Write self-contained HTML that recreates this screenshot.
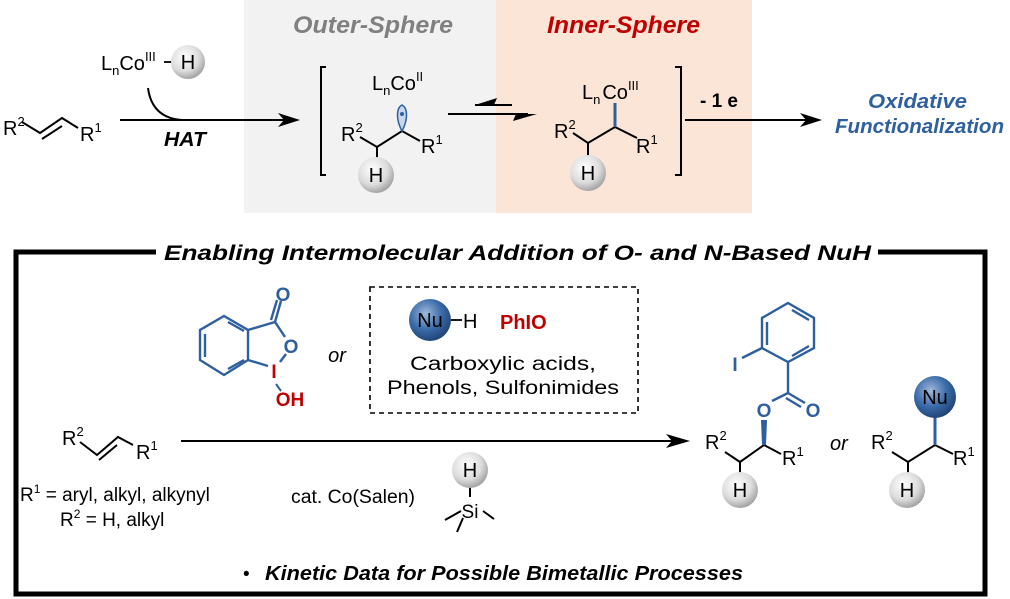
<!DOCTYPE html>
<html><head><meta charset="utf-8"><style>
html,body{margin:0;padding:0;background:#fff}
svg{display:block}
text{font-family:"Liberation Sans",Arial,sans-serif}
</style></head><body>
<svg width="1010" height="599" viewBox="0 0 1010 599" xmlns="http://www.w3.org/2000/svg">
<defs>
<radialGradient id="hg" cx="0.4" cy="0.35" r="0.7">
<stop offset="0" stop-color="#ffffff"/><stop offset="0.6" stop-color="#dcdcdc"/><stop offset="1" stop-color="#9a9a9a"/>
</radialGradient>
<radialGradient id="ng" cx="0.4" cy="0.35" r="0.7">
<stop offset="0" stop-color="#9fb9dc"/><stop offset="0.55" stop-color="#3a6aa8"/><stop offset="1" stop-color="#1e3f70"/>
</radialGradient>
</defs>
<rect x="244" y="0" width="252" height="213" fill="#f2f2f2"/>
<rect x="496" y="0" width="256" height="213" fill="#fbe5d6"/>
<text x="293" y="33" font-size="24" font-weight="bold" font-style="italic" fill="#808080" textLength="160" lengthAdjust="spacingAndGlyphs">Outer-Sphere</text>
<text x="547" y="33" font-size="24" font-weight="bold" font-style="italic" fill="#c00000" textLength="153" lengthAdjust="spacingAndGlyphs">Inner-Sphere</text>

<g stroke="#000" stroke-width="2" fill="none">
<polyline points="22,122 40,133 62,118 78,128"/>
<line x1="42" y1="139" x2="62" y2="126"/>
<line x1="120" y1="120" x2="290" y2="120"/>
<path d="M148,88 Q152,118 182,120"/>
<polyline points="326,67 321,67 321,175 326,175"/>
<polyline points="675,67 681,67 681,175 675,175"/>
<polyline points="360,137 377,147 402,131 420,141"/>
<line x1="377" y1="147" x2="377" y2="158"/>
<line x1="475" y1="105" x2="512" y2="105"/>
<line x1="448" y1="114" x2="528" y2="114"/>
<polyline points="573,133 588,143 615,127 637,138"/>
<line x1="588" y1="143" x2="588" y2="156"/>
<line x1="685" y1="120" x2="810" y2="120"/>
</g>
<polygon points="300,120 278,113 284,120 278,127" fill="#000"/>
<polygon points="475,105 497,98 494,105" fill="#000"/>
<polygon points="537,114 513,121 516,114" fill="#000"/>
<polygon points="822,120 800,113 806,120 800,127" fill="#000"/>
<line x1="615" y1="127" x2="615" y2="103" stroke="#2e5f9e" stroke-width="3"/>
<path d="M402,131 C396,120 396,108 402,105 C408,108 408,120 402,131 Z" fill="#c9d7ec" stroke="#2e5f9e" stroke-width="1.5"/>
<circle cx="402" cy="114" r="2" fill="#2e5f9e"/>

<g font-size="20" fill="#000">
<text x="3" y="135">R<tspan font-size="13" dy="-9">2</tspan></text>
<text x="80" y="141">R<tspan font-size="13" dy="-9">1</tspan></text>
<text x="101" y="70">L<tspan font-size="13" dy="5">n</tspan><tspan dy="-5">Co</tspan><tspan font-size="13" dy="-9">III</tspan></text>
<text x="372" y="90">L<tspan font-size="13" dy="5">n</tspan><tspan dy="-5">Co</tspan><tspan font-size="13" dy="-9">II</tspan></text>
<text x="341" y="141">R<tspan font-size="13" dy="-9">2</tspan></text>
<text x="421" y="153">R<tspan font-size="13" dy="-9">1</tspan></text>
<text x="582" y="99">L<tspan font-size="13" dy="5">n</tspan><tspan dx="2" dy="-5">Co</tspan><tspan font-size="13" dy="-9">III</tspan></text>
<text x="554" y="138">R<tspan font-size="13" dy="-9">2</tspan></text>
<text x="636" y="153">R<tspan font-size="13" dy="-9">1</tspan></text>
</g>
<line x1="164" y1="62" x2="172" y2="62" stroke="#000" stroke-width="1.8"/>
<circle cx="188" cy="62" r="17" fill="url(#hg)"/><text x="188" y="69" font-size="20" text-anchor="middle">H</text>
<circle cx="376" cy="175" r="18" fill="url(#hg)"/><text x="376" y="182" font-size="20" text-anchor="middle">H</text>
<circle cx="588" cy="173" r="18" fill="url(#hg)"/><text x="588" y="180" font-size="20" text-anchor="middle">H</text>
<text x="164" y="146" font-size="20" font-weight="bold" font-style="italic" textLength="42" lengthAdjust="spacingAndGlyphs">HAT</text>
<text x="719" y="107" font-size="19" font-weight="bold" text-anchor="middle">- 1 e</text>
<text x="868" y="108" font-size="20" font-weight="bold" font-style="italic" fill="#2e5f9e" textLength="99" lengthAdjust="spacingAndGlyphs">Oxidative</text>
<text x="835" y="133" font-size="20" font-weight="bold" font-style="italic" fill="#2e5f9e" textLength="169" lengthAdjust="spacingAndGlyphs">Functionalization</text>

<rect x="16" y="252" width="969" height="342" fill="none" stroke="#000" stroke-width="5"/>
<rect x="156" y="238" width="722" height="28" fill="#fff"/>
<text x="164" y="260" font-size="21" font-weight="bold" font-style="italic" textLength="707" lengthAdjust="spacingAndGlyphs">Enabling Intermolecular Addition of O- and N-Based NuH</text>

<g stroke="#2e5f9e" stroke-width="2.4" fill="none">
<polygon points="224,316 248,330 248,360 224,375 200,360 200,330"/>
<line x1="205" y1="334" x2="205" y2="357"/>
<line x1="228" y1="322" x2="244" y2="331"/>
<line x1="228" y1="369" x2="244" y2="360"/>
<line x1="248" y1="330" x2="275" y2="322"/>
<line x1="275" y1="322" x2="281" y2="301"/>
<line x1="271" y1="320" x2="277" y2="300"/>
<line x1="275" y1="322" x2="285" y2="337"/>
<line x1="248" y1="360" x2="268" y2="366"/>
<line x1="286" y1="354" x2="280" y2="362"/>
</g>
<line x1="276" y1="384" x2="281" y2="391" stroke="#2e5f9e" stroke-width="2"/>
<text x="283" y="301" font-size="19" font-weight="bold" fill="#2e5f9e" text-anchor="middle">O</text>
<text x="291" y="353" font-size="19" font-weight="bold" fill="#2e5f9e" text-anchor="middle">O</text>
<text x="274" y="378" font-size="19" font-weight="bold" fill="#c00000" text-anchor="middle">I</text>
<text x="290" y="406" font-size="19" font-weight="bold" fill="#c00000" text-anchor="middle">OH</text>
<text x="337" y="362" font-size="20" font-style="italic" text-anchor="middle">or</text>

<rect x="370" y="287" width="268" height="126" fill="none" stroke="#000" stroke-width="1.6" stroke-dasharray="5,4"/>
<circle cx="430" cy="320" r="21" fill="url(#ng)"/>
<text x="430" y="327" font-size="20" text-anchor="middle">Nu</text>
<line x1="451" y1="320" x2="462" y2="320" stroke="#000" stroke-width="1.8"/>
<text x="463" y="328" font-size="20">H</text>
<text x="500" y="329" font-size="20" font-weight="bold" fill="#c00000">PhIO</text>
<text x="410" y="370" font-size="19" textLength="186" lengthAdjust="spacingAndGlyphs">Carboxylic acids,</text>
<text x="387" y="394" font-size="19" textLength="232" lengthAdjust="spacingAndGlyphs">Phenols, Sulfonimides</text>

<g stroke="#000" stroke-width="2" fill="none">
<polyline points="80,442 97,455 118,437 133,445"/>
<line x1="99" y1="460" x2="117" y2="445"/>
<line x1="181" y1="441" x2="680" y2="441"/>
<line x1="470" y1="487" x2="470" y2="497"/>
<line x1="445" y1="520" x2="461" y2="511"/>
<line x1="457" y1="532" x2="463" y2="518"/>
<line x1="483" y1="511" x2="494" y2="519"/>
<polyline points="725,452 740,462 764,445 781,454"/>
<line x1="740" y1="462" x2="740" y2="473"/>
<polyline points="892,452 908,462 935,445 953,454"/>
<line x1="908" y1="462" x2="908" y2="473"/>
</g>
<polygon points="690,441 666,434 672,441 666,448" fill="#000"/>
<g font-size="20">
<text x="62" y="445">R<tspan font-size="13" dy="-9">2</tspan></text>
<text x="136" y="459">R<tspan font-size="13" dy="-9">1</tspan></text>
<text x="20" y="501" font-size="19">R<tspan font-size="12" dy="-8">1</tspan><tspan dy="8"> = aryl, alkyl, alkynyl</tspan></text>
<text x="60" y="526" font-size="19">R<tspan font-size="12" dy="-8">2</tspan><tspan dy="8"> = H, alkyl</tspan></text>
<text x="291" y="503" font-size="19" textLength="124" lengthAdjust="spacingAndGlyphs">cat. Co(Salen)</text>
<text x="470" y="518" font-size="19" text-anchor="middle">Si</text>
<text x="705" y="449">R<tspan font-size="13" dy="-9">2</tspan></text>
<text x="782" y="465">R<tspan font-size="13" dy="-9">1</tspan></text>
<text x="830" y="450" font-style="italic">or</text>
<text x="871" y="449">R<tspan font-size="13" dy="-9">2</tspan></text>
<text x="953" y="465">R<tspan font-size="13" dy="-9">1</tspan></text>
</g>
<circle cx="470" cy="470" r="18" fill="url(#hg)"/><text x="470" y="477" font-size="20" text-anchor="middle">H</text>
<circle cx="740" cy="490" r="18" fill="url(#hg)"/><text x="740" y="497" font-size="20" text-anchor="middle">H</text>
<circle cx="907" cy="490" r="18" fill="url(#hg)"/><text x="907" y="497" font-size="20" text-anchor="middle">H</text>

<g stroke="#2e5f9e" stroke-width="2.4" fill="none">
<polygon points="788,303 814,318 814,348 788,362 762,348 762,318"/>
<line x1="767" y1="322" x2="767" y2="345"/>
<line x1="792" y1="310" x2="809" y2="320"/>
<line x1="792" y1="356" x2="809" y2="346"/>
<line x1="762" y1="348" x2="742" y2="358"/>
<line x1="788" y1="362" x2="788" y2="393"/>
<line x1="788" y1="393" x2="772" y2="401"/>
<line x1="788" y1="393" x2="805" y2="403"/>
<line x1="786" y1="398" x2="801" y2="407"/>
</g>
<polygon points="762,445 766,445 767,420 761,420" fill="#2e5f9e"/>
<text x="735" y="371" font-size="19" font-weight="bold" fill="#2e5f9e" text-anchor="middle">I</text>
<text x="764" y="417" font-size="19" font-weight="bold" fill="#2e5f9e" text-anchor="middle">O</text>
<text x="813" y="417" font-size="19" font-weight="bold" fill="#2e5f9e" text-anchor="middle">O</text>
<line x1="935" y1="417" x2="935" y2="445" stroke="#2e5f9e" stroke-width="3"/>
<circle cx="935" cy="397" r="21" fill="url(#ng)"/>
<text x="935" y="404" font-size="20" text-anchor="middle">Nu</text>

<text x="243" y="580" font-size="19">•</text>
<text x="265" y="580" font-size="20" font-weight="bold" font-style="italic" textLength="478" lengthAdjust="spacingAndGlyphs">Kinetic Data for Possible Bimetallic Processes</text>
</svg>
</body></html>
